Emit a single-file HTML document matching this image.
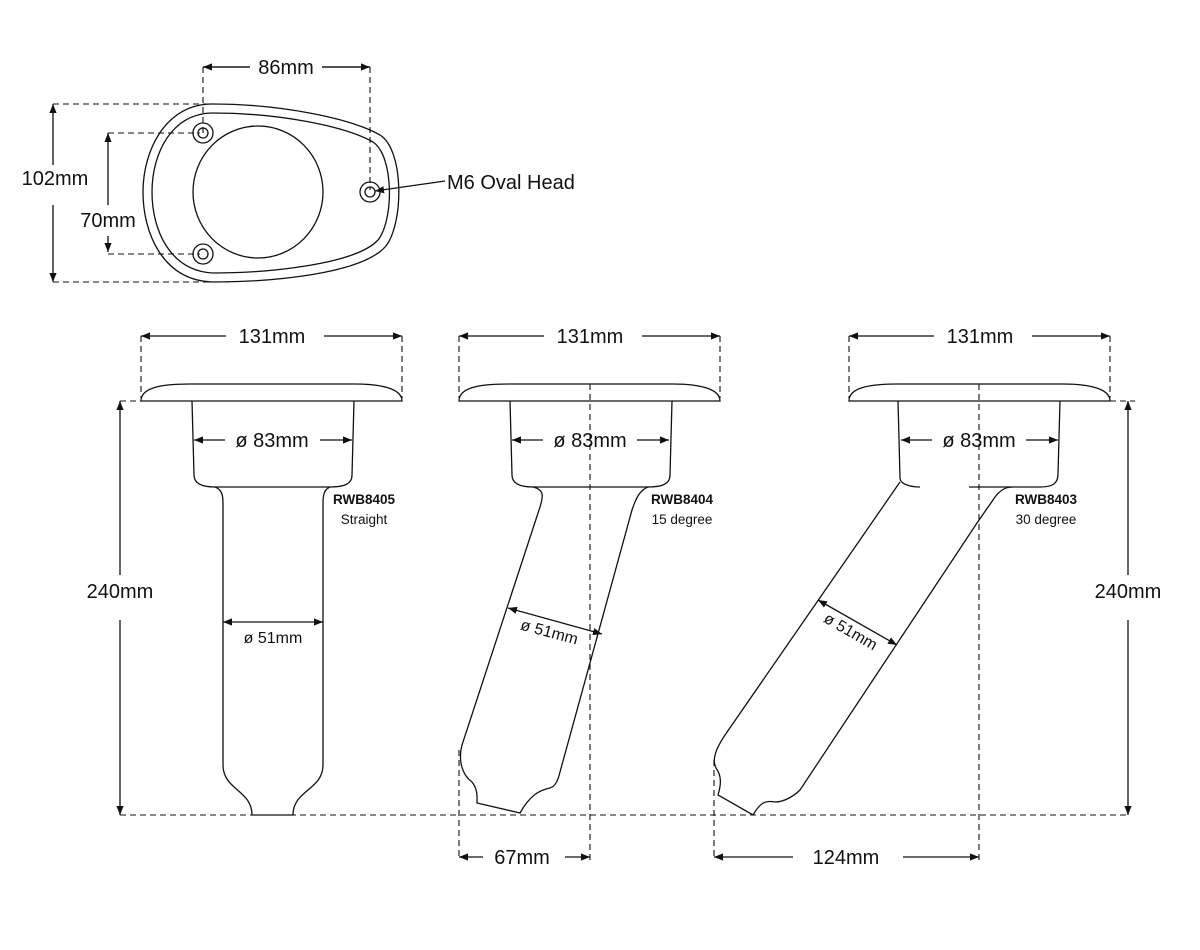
<!DOCTYPE html>
<html><head><meta charset="utf-8"><style>
html,body{margin:0;padding:0;background:#fff;width:1200px;height:950px;overflow:hidden}
text{font-family:"Liberation Sans",sans-serif;fill:#111}
</style></head><body>
<svg width="1200" height="950" viewBox="0 0 1200 950" xmlns="http://www.w3.org/2000/svg">
<defs>
<marker id="a" viewBox="0 0 10 10" refX="10" refY="5" markerWidth="9" markerHeight="9" orient="auto-start-reverse" markerUnits="userSpaceOnUse"><path d="M0,1 L10,5 L0,9 Z" fill="#111"/></marker>
</defs>
<g fill="none" stroke="#111" stroke-width="1.3">
<!-- dashed lines -->
<g stroke-dasharray="6,4" stroke-width="1.1">
<path d="M203,67V133 M370,67V190 M53,104H225 M53,282H230 M108,133H200 M108,254H200"/>
<path d="M141,336V398 M402,336V398 M459,336V398 M720,336V398 M849,336V398 M1110,336V398"/>
<path d="M120,401H141 M1110,401H1135 M120,815H1128"/>
<path d="M590,384V860 M979,384V860 M459,750V860 M714,760V860"/>
</g>
<!-- arrows -->
<g marker-start="url(#a)" marker-end="url(#a)">
<path d="M203,67H250 M322,67H370" marker-start="none" marker-end="none"/>
</g>
<path d="M250,67H203" marker-end="url(#a)"/><path d="M322,67H370" marker-end="url(#a)"/>
<path d="M53,165V104" marker-end="url(#a)"/><path d="M53,205V282" marker-end="url(#a)"/>
<path d="M108,205V133" marker-end="url(#a)"/><path d="M108,236V252" marker-end="url(#a)"/>
<path d="M375,191L445,181" marker-start="url(#a)"/>
<!-- 131 dims -->
<path d="M226,336H141" marker-end="url(#a)"/><path d="M324,336H402" marker-end="url(#a)"/>
<path d="M544,336H459" marker-end="url(#a)"/><path d="M642,336H720" marker-end="url(#a)"/>
<path d="M934,336H849" marker-end="url(#a)"/><path d="M1032,336H1110" marker-end="url(#a)"/>
<!-- 83 dims -->
<path d="M225,440H194" marker-end="url(#a)"/><path d="M320,440H352" marker-end="url(#a)"/>
<path d="M543,440H512" marker-end="url(#a)"/><path d="M637,440H669" marker-end="url(#a)"/>
<path d="M932,440H901" marker-end="url(#a)"/><path d="M1026,440H1058" marker-end="url(#a)"/>
<!-- 51 -->
<path d="M223,622H323" marker-start="url(#a)" marker-end="url(#a)"/>
<path d="M508,608L602,634" marker-start="url(#a)" marker-end="url(#a)"/>
<path d="M818,600L897,645" marker-start="url(#a)" marker-end="url(#a)"/>
<!-- 240 -->
<path d="M120,575V401" marker-end="url(#a)"/><path d="M120,620V815" marker-end="url(#a)"/>
<path d="M1128,575V401" marker-end="url(#a)"/><path d="M1128,620V815" marker-end="url(#a)"/>
<!-- 67 / 124 -->
<path d="M483,857H459" marker-end="url(#a)"/><path d="M565,857H590" marker-end="url(#a)"/>
<path d="M793,857H714" marker-end="url(#a)"/><path d="M903,857H979" marker-end="url(#a)"/>

<!-- top view -->
<path d="M212,104 C280,104 350,118 380,135 C404,150 404,222 386,246 C362,274 272,282 212,282 C162,280 143,232 143,192 C143,150 166,104 212,104 Z"/>
<path d="M213,113 C278,113 345,126 373,142 C394,156 394,220 378,240 C356,264 270,273 213,273 C170,271 152,230 152,192 C152,153 172,113 213,113 Z"/>
<ellipse cx="258" cy="192" rx="65" ry="66"/>
<circle cx="203" cy="133" r="10"/><circle cx="203" cy="133" r="5"/>
<circle cx="203" cy="254" r="10"/><circle cx="203" cy="254" r="5"/>
<circle cx="370" cy="192" r="10"/><circle cx="370" cy="192" r="5"/>

<!-- straight -->
<path d="M141,401 C141,388 160,384 190,384 H355 C385,384 402,390 402,401 Z"/>
<path d="M192,401 L194,475 C194,485 205,487 215,487 H330 C342,487 352,485 352,475 L354,401"/>
<path d="M215,487 C223,490 223,497 223,505 V765 C223,790 252,790 252,815 H293 C293,790 323,790 323,765 V505 C323,497 323,490 330,487"/>

<!-- 15 deg -->
<path d="M459,401 C459,388 478,384 508,384 H673 C703,384 720,390 720,401 Z"/>
<path d="M510,401 L512,475 C512,485 523,487 533,487 H648 C660,487 670,485 670,475 L672,401"/>
<path d="M533,487 C545,490 543,497 540,507 L462,745 C458,760 462,775 472,782 C478,790 477,796 477,803 L520,813 C530,795 540,790 550,788 C556,786 558,780 560,772 L632,510 C636,498 640,490 648,487"/>

<!-- 30 deg -->
<path d="M849,401 C849,388 868,384 898,384 H1063 C1093,384 1110,390 1110,401 Z"/>
<path d="M898,401 L900,478 C900,484 910,487 920,487 M969,487 H1040 C1052,487 1058,484 1058,474 L1060,401"/>
<path d="M900,482 L725,735 C715,750 712,760 716,768 C722,776 721,785 718,795 L753,815 C760,803 765,800 775,802 C785,802 795,795 800,790 L977,523 L993,500 C998,492 1004,487 1012,487"/>
</g>
<g font-size="20">
<text x="286" y="74" text-anchor="middle">86mm</text>
<text x="55" y="185" text-anchor="middle">102mm</text>
<text x="108" y="227" text-anchor="middle">70mm</text>
<text x="447" y="189">M6 Oval Head</text>
<text x="272" y="343" text-anchor="middle">131mm</text>
<text x="590" y="343" text-anchor="middle">131mm</text>
<text x="980" y="343" text-anchor="middle">131mm</text>
<text x="272" y="447" text-anchor="middle">ø 83mm</text>
<text x="590" y="447" text-anchor="middle">ø 83mm</text>
<text x="979" y="447" text-anchor="middle">ø 83mm</text>
<text x="120" y="598" text-anchor="middle">240mm</text>
<text x="1128" y="598" text-anchor="middle">240mm</text>
<text x="522" y="864" text-anchor="middle">67mm</text>
<text x="846" y="864" text-anchor="middle">124mm</text>
</g>
<g font-size="16">
<text x="273" y="643" text-anchor="middle">ø 51mm</text>
<text transform="translate(548,637) rotate(15)" text-anchor="middle">ø 51mm</text>
<text transform="translate(848,636) rotate(30)" text-anchor="middle">ø 51mm</text>
</g>
<g font-size="13.5" text-anchor="middle">
<text x="364" y="504" font-weight="bold">RWB8405</text><text x="364" y="524">Straight</text>
<text x="682" y="504" font-weight="bold">RWB8404</text><text x="682" y="524">15 degree</text>
<text x="1046" y="504" font-weight="bold">RWB8403</text><text x="1046" y="524">30 degree</text>
</g>
</svg>
</body></html>
